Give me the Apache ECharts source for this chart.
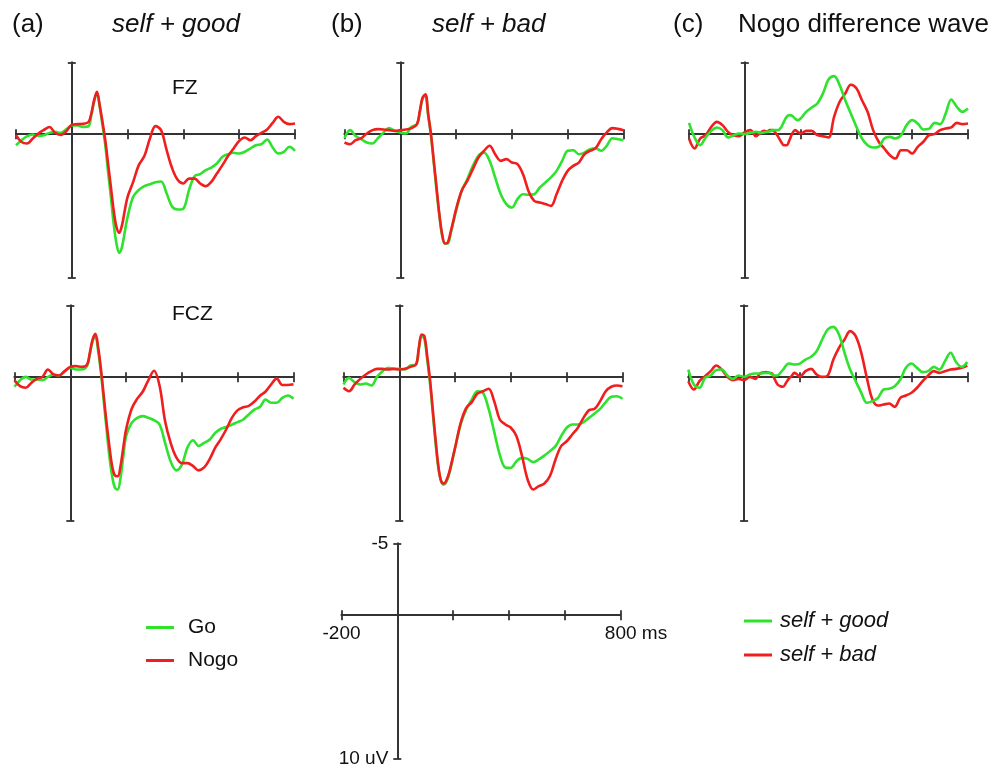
<!DOCTYPE html>
<html>
<head>
<meta charset="utf-8">
<script src="https://cdn.jsdelivr.net/npm/echarts@6/dist/echarts.min.js"></script>
<style>
  html, body { margin: 0; padding: 0; background: #fff; }
  #main { width: 996px; height: 764px; }
</style>
</head>
<body>
<div id="main"></div>
<script>
// time points (ms) shared by every trace
const times = [-200,-180,-160,-140,-120,-100,-80,-60,-40,-20,0,20,40,60,
  70,80,90,100,110,120,130,140,150,160,170,180,190,200,
  220,240,260,280,300,320,340,360,380,400,420,440,460,480,500,520,540,560,580,600,
  620,640,660,680,700,720,740,760,780,800];

// (a) self + good, FZ
const fzGoodGo = [0.77,0.42,0.14,0.02,0.12,0.07,-0.09,-0.16,-0.09,-0.33,-0.6,-0.6,-0.51,-0.56,
  -1.33,-2.26,-2.88,-1.9,-0.63,0.77,2.63,4.37,6.23,7.63,8.28,7.86,6.81,5.77,
  4.37,3.9,3.63,3.49,3.35,3.3,4.14,5.07,5.26,5.19,3.9,2.93,2.79,2.51,2.33,2.05,1.58,1.4,1.3,1.35,
  1.23,1.0,0.77,0.7,0.37,0.93,1.35,1.23,0.88,1.16];
const fzGoodNogo = [0.07,0.55,0.65,0.3,-0.05,-0.3,-0.5,-0.1,0.05,-0.2,-0.65,-0.7,-0.72,-0.85,
  -1.44,-2.37,-2.95,-2.02,-0.86,0.42,2.05,3.67,5.3,6.47,6.88,6.35,5.3,4.37,
  3.33,2.16,1.53,0.3,-0.56,-0.28,1.12,2.4,3.2,3.44,3.1,3.1,3.44,3.63,3.33,2.74,2.16,1.53,1.0,0.47,
  0.23,0.42,0.14,-0.09,-0.33,-0.79,-1.21,-0.86,-0.7,-0.74];
// (b) self + bad, FZ
const fzBadGo = [0.28,-0.28,0.12,0.35,0.58,0.65,0.28,-0.12,-0.42,-0.23,-0.12,-0.05,-0.51,-0.7,
  -1.51,-2.51,-2.67,-1.28,0.12,1.98,3.95,5.7,7.1,7.63,7.63,6.98,6.16,5.35,
  3.95,3.14,2.21,1.51,1.28,1.86,3.02,4.19,4.88,5.12,4.53,4.19,4.23,4.19,3.72,3.37,3.02,2.56,1.86,1.16,
  1.12,1.4,1.28,1.05,0.98,1.16,0.81,0.28,0.35,0.42];
const fzBadNogo = [0.58,0.7,0.42,0.28,-0.05,-0.28,-0.35,-0.33,-0.28,-0.23,-0.28,-0.33,-0.42,-0.7,
  -1.63,-2.56,-2.79,-1.4,0,1.86,3.72,5.58,6.98,7.63,7.56,6.86,6.05,5.23,
  3.95,3.26,2.44,1.63,1.16,0.81,1.4,1.86,1.74,1.98,2.09,2.8,4.0,4.65,4.77,4.88,5.0,4.19,3.26,2.56,
  2.21,1.98,1.4,1.16,0.98,0.35,-0.12,-0.42,-0.37,-0.28];
// (c) Nogo difference wave, FZ
const fzDiffGood = [-0.79,0.23,0.77,0.23,-0.23,-0.47,-0.28,0.23,0.07,-0.05,0,-0.09,-0.16,-0.09,
  -0.12,-0.16,-0.2,-0.28,-0.28,-0.28,-0.47,-0.86,-1.21,-1.33,-1.28,-1.09,-0.98,-1.09,
  -1.56,-1.86,-2.14,-2.84,-3.81,-4.05,-3.42,-2.37,-1.44,-0.51,0.3,0.77,0.93,0.88,0.3,0.19,0.3,0.07,-0.63,-0.98,
  -0.74,-0.33,-0.37,-0.79,-0.7,-1.44,-2.42,-1.91,-1.56,-1.79];
const fzDiffBad = [0.3,1.0,0.3,0.07,-0.51,-0.86,-0.63,-0.16,0.07,0.14,-0.14,-0.28,0.14,-0.16,
  -0.23,-0.19,-0.28,-0.28,-0.09,0.19,0.53,0.77,0.77,0.42,-0.05,-0.28,-0.16,-0.05,
  -0.23,-0.23,0.07,0.14,0.23,-1.21,-2.26,-2.84,-3.45,-3.2,-2.37,-1.56,-0.28,0.53,1.0,1.47,1.7,1.12,1.12,1.35,
  0.88,0.53,0.07,0,-0.28,-0.4,-0.47,-0.79,-0.7,-0.74];
// (a) self + good, FCZ
const fczGoodGo = [0.67,0.21,-0.02,0.16,0.16,0.21,-0.02,-0.19,-0.12,-0.42,-0.65,-0.53,-0.53,-0.77,
  -1.58,-2.51,-2.81,-1.81,-0.3,1.67,3.65,5.51,6.91,7.72,7.84,7.02,5.51,4.12,
  3.19,2.84,2.72,2.84,3.0,3.3,4.6,5.9,6.5,6.1,4.9,4.4,4.8,4.58,4.35,3.88,3.6,3.47,3.3,3.14,
  2.95,2.6,2.26,2.07,1.56,1.79,1.79,1.44,1.28,1.51];
const fczGoodNogo = [0.21,0.63,0.74,0.4,0.12,-0.02,-0.53,-0.19,-0.12,-0.42,-0.72,-0.77,-0.72,-0.88,
  -1.7,-2.63,-3.02,-2.05,-0.53,1.33,3.19,4.81,6.21,6.86,6.91,6.21,4.9,3.65,
  2.2,1.5,1.0,0.2,-0.45,0.6,3.1,4.6,5.6,6.0,6.0,6.2,6.5,6.3,5.7,4.9,4.3,3.6,2.8,2.3,
  2.1,2.0,1.7,1.3,1.0,0.5,0.1,0.55,0.55,0.5];
// (b) self + bad, FCZ
const fczBadGo = [0.51,0.05,0.35,0.51,0.44,0.58,-0.02,-0.42,-0.65,-0.58,-0.58,-0.53,-0.81,-0.88,
  -1.93,-2.86,-2.67,-1.23,0.4,2.49,4.58,6.33,7.26,7.49,7.26,6.67,5.86,4.93,
  3.3,2.26,1.56,0.98,1.09,2.2,3.8,5.4,6.3,6.33,5.86,5.63,5.7,5.93,5.74,5.47,5.16,4.81,4.12,3.53,
  3.3,3.3,3.14,2.84,2.53,2.21,1.74,1.37,1.33,1.51];
const fczBadNogo = [0.74,0.98,0.51,0.12,-0.19,-0.42,-0.58,-0.58,-0.53,-0.58,-0.53,-0.58,-0.72,-0.88,
  -2.05,-2.98,-2.86,-1.47,0.16,2.26,4.35,6.21,7.26,7.42,7.14,6.56,5.74,4.93,
  3.19,2.14,1.74,1.14,0.98,0.81,1.67,2.95,3.3,3.53,4.12,5.51,7.14,7.84,7.6,7.42,6.9,5.74,4.81,4.47,
  4.0,3.53,2.84,2.3,2.21,1.67,0.98,0.67,0.58,0.63];
// (c) Nogo difference wave, FCZ
const fczDiffGood = [-0.53,0.51,0.74,0.05,-0.12,-0.49,-0.53,-0.12,0.12,-0.12,-0.02,-0.19,-0.26,-0.26,
  -0.28,-0.3,-0.3,-0.19,-0.12,-0.12,-0.3,-0.53,-0.8,-0.95,-0.92,-0.88,-0.9,-0.95,
  -1.23,-1.42,-1.81,-2.63,-3.33,-3.51,-2.98,-1.7,-0.53,0.28,1.09,1.79,1.67,1.44,0.86,0.81,0.63,0.16,-0.65,-0.95,
  -0.65,-0.35,-0.42,-0.72,-0.53,-1.12,-1.7,-1.05,-0.72,-1.05];
const fczDiffBad = [0.28,0.86,0.28,-0.07,-0.42,-0.81,-0.53,-0.02,0.21,0.12,0.21,-0.02,0.12,-0.3,
  -0.32,-0.35,-0.3,-0.26,0.16,0.51,0.63,0.67,0.4,0.12,-0.07,-0.3,-0.19,-0.02,
  -0.42,-0.58,-0.19,-0.02,-0.12,-1.23,-2.05,-2.63,-3.21,-2.86,-1.7,0.05,1.56,1.98,1.91,1.84,2.07,1.44,1.28,1.09,
  0.74,0.28,-0.12,-0.42,-0.3,-0.42,-0.53,-0.58,-0.65,-0.81];

// axis scale: x from -200 to 800 ms, y from -5 (up) to 10 uV (down)
const xTicks = [-200, 800];
const yTicks = [-5, 10];

const GREEN = '#2ee22e';
const RED = '#f01e1e';
const AXIS = '#333';
const FONT = '"Liberation Sans", Arial, sans-serif';

// grid boxes [left, top] for the 6 panels + the scale bar
const boxes = [
  [16, 62.5], [344.5, 62.5], [689, 62.5],
  [14.5, 305.5], [343.5, 305.5], [688.3, 305.5],
  [341.5, 543.5]
];
const W = 279, H = 215;

const panels = [
  [['Go', fzGoodGo, GREEN], ['Nogo', fzGoodNogo, RED]],
  [['Go', fzBadGo, GREEN], ['Nogo', fzBadNogo, RED]],
  [['self + bad', fzDiffBad, RED], ['self + good', fzDiffGood, GREEN]],
  [['Go', fczGoodGo, GREEN], ['Nogo', fczGoodNogo, RED]],
  [['Go', fczBadGo, GREEN], ['Nogo', fczBadNogo, RED]],
  [['self + bad', fczDiffBad, RED], ['self + good', fczDiffGood, GREEN]]
];

// axes cross at (0 ms, 0 uV): shift each axis in from the grid edge
const fx0 = (0 - xTicks[0]) / (xTicks[1] - xTicks[0]);
const fy0 = (0 - yTicks[0]) / (yTicks[1] - yTicks[0]);
const xOff = { bottom: -H * (1 - fy0), top: -H * fy0 };
const yOff = { left: -W * fx0, right: -W * (1 - fx0) };

const grid = [], xAxis = [], yAxis = [], series = [];
const lineSt = { color: AXIS, width: 1.8 };

boxes.forEach((b, g) => {
  const scale = g === 6;
  grid.push({ left: b[0], top: b[1], width: W, height: H, containLabel: false, outerBoundsMode: 'none' });
  ['bottom', 'top'].forEach((pos, k) => {
    xAxis.push({
      type: 'value', gridIndex: g, position: pos, offset: xOff[pos],
      min: xTicks[0], max: xTicks[1], interval: 200,
      axisLine: { show: true, onZero: false, lineStyle: lineSt },
      axisTick: { show: true, length: 5, lineStyle: lineSt },
      splitLine: { show: false },
      axisLabel: {
        show: scale && k === 0, margin: 9, fontSize: 19, color: '#111', fontFamily: FONT,
        formatter: v => v === xTicks[0] ? String(v) : v === xTicks[1] ? '{pad| }' + v + ' ms' : '',
        rich: { pad: { width: 31 } }
      }
    });
  });
  ['left', 'right'].forEach((pos, k) => {
    yAxis.push({
      type: 'value', gridIndex: g, position: pos, offset: yOff[pos], inverse: true,
      min: yTicks[0], max: yTicks[1], interval: 15,
      axisLine: { show: true, onZero: false, lineStyle: lineSt },
      axisTick: { show: true, length: 4, lineStyle: lineSt },
      splitLine: { show: false },
      axisLabel: {
        show: scale && k === 0, margin: 9, fontSize: 19, color: '#111', fontFamily: FONT,
        formatter: v => v === yTicks[0] ? String(v) : v + ' uV'
      }
    });
  });
});

panels.forEach((p, g) => {
  p.forEach(([name, vals, color]) => {
    series.push({
      name, type: 'line', xAxisIndex: 2 * g, yAxisIndex: 2 * g,
      data: times.map((t, i) => [t, vals[i]]),
      symbol: 'none', smooth: 0.35, color,
      lineStyle: { color, width: 2.6 }
    });
  });
});

const txt = (text, x, y, size, italic) => ({
  type: 'text', x, y,
  style: { text, fontSize: size, fontFamily: FONT, fontStyle: italic ? 'italic' : 'normal',
    fill: '#111', verticalAlign: 'middle', align: 'left' }
});

const chart = echarts.init(document.getElementById('main'));
chart.setOption({
  animation: false,
  backgroundColor: '#fff',
  grid, xAxis, yAxis, series,
  legend: [
    {
      data: ['Go', 'Nogo'], orient: 'vertical', left: 146, top: 617, padding: 0,
      icon: 'rect', itemWidth: 28, itemHeight: 3, itemGap: 12,
      textStyle: { fontSize: 21, fontFamily: FONT, color: '#111', padding: [0, 0, 0, 9] }
    },
    {
      data: ['self + good', 'self + bad'], orient: 'vertical', left: 744, top: 610, padding: 0,
      icon: 'rect', itemWidth: 28, itemHeight: 3, itemGap: 12,
      textStyle: { fontSize: 22, fontFamily: FONT, fontStyle: 'italic', color: '#111', padding: [0, 0, 0, 3] }
    }
  ],
  graphic: [
    txt('(a)', 12, 25, 26),
    txt('self + good', 112, 25, 26, true),
    txt('(b)', 331, 25, 26),
    txt('self + bad', 432, 25, 26, true),
    txt('(c)', 673, 25, 26),
    txt('Nogo difference wave', 738, 25, 26),
    txt('FZ', 172, 88, 21),
    txt('FCZ', 172, 314, 21)
  ]
});
</script>
</body>
</html>
